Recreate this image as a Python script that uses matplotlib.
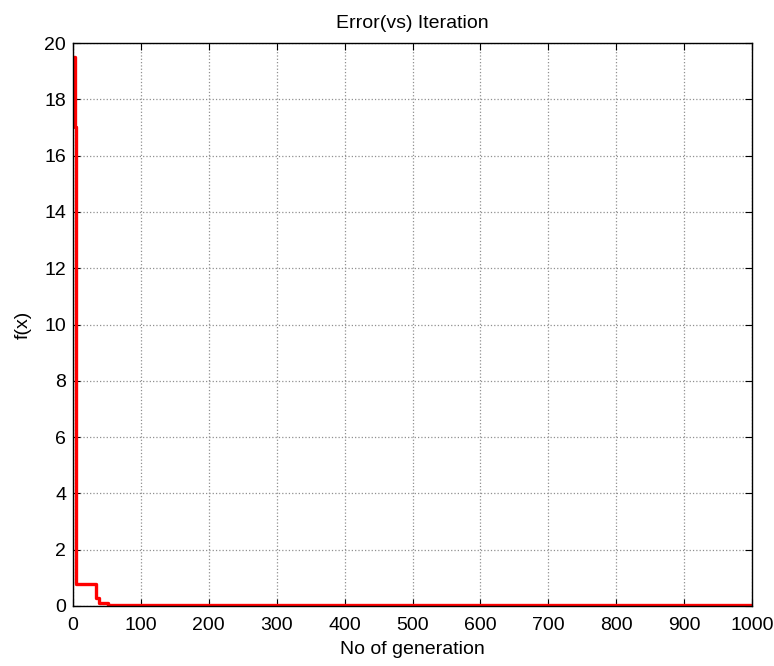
import matplotlib
matplotlib.use("Agg")
import matplotlib.pyplot as plt

plt.rcParams['font.family'] = ['Liberation Sans', 'DejaVu Sans']

generations = [0, 3, 5, 34, 39, 52, 1000]
errors = [19.5, 17.0, 0.78, 0.28, 0.10, 0.02, 0.02]

fig = plt.figure(figsize=(7.74, 6.66), dpi=100)
ax = fig.add_axes([0.0943, 0.0901, 0.8773, 0.8453])

ax.step(generations, errors, where='post', color='red', linewidth=2.4)

ax.set_xlim(0, 1000)
ax.set_ylim(0, 20)
ax.set_xticks(range(0, 1001, 100))
ax.set_yticks(range(0, 21, 2))
ax.grid(True, color='#909090', linestyle=':', linewidth=0.9)
ax.tick_params(direction='in', top=True, right=True, length=5, labelsize=14)
ax.tick_params(axis='x', pad=8)
ax.tick_params(axis='y', pad=5)
for s in ax.spines.values():
    s.set_linewidth(1.0)

ax.set_title('Error(vs) Iteration', fontsize=14, pad=11)
ax.set_xlabel('No of generation', fontsize=14, labelpad=5)
ax.set_ylabel('f(x)', fontsize=14, labelpad=9)

fig.savefig('out.png', dpi=100)
